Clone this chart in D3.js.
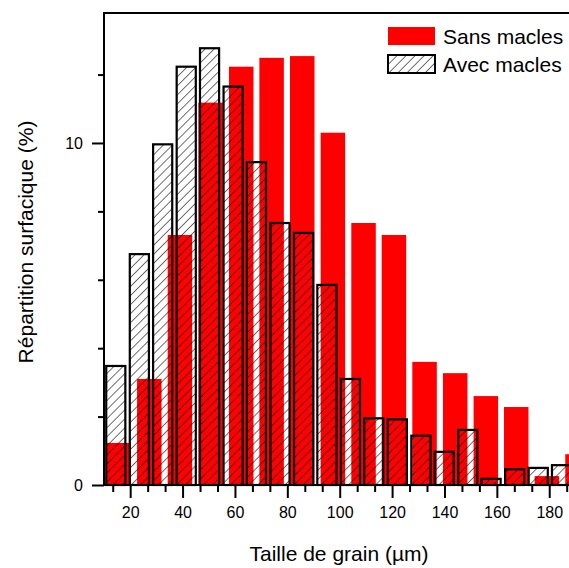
<!DOCTYPE html>
<html>
  <head>
    <meta charset="utf-8" />
    <title>Taille de grain</title>
    <script src="https://d3js.org/d3.v7.min.js"></script>
    <style>
        body {
            margin: 0;
            background: #fff;
        }
        text {
            font-family: "Liberation Sans", Arial, sans-serif;
            fill: #000;
        }
    </style>
  </head>
  <body>
    <svg id="chart"></svg>

    <script>
        // bin centres (µm) and surface fraction (%)
        var sansCenters = [15.6, 27.3, 39.0, 50.7, 62.4, 74.0, 85.7, 97.4, 109.1, 120.7, 132.4, 144.1, 155.8, 167.4, 179.1, 190.8];
        var sansValues  = [1.23, 3.1, 7.31, 11.18, 12.23, 12.49, 12.54, 10.3, 7.66, 7.31, 3.6, 3.27, 2.6, 2.28, 0.26, 0.9];

        var avecCenters = [14.5, 23.5, 32.4, 41.4, 50.3, 59.3, 68.2, 77.2, 86.2, 95.1, 104.1, 113.0, 122.0, 131.0, 139.9, 148.9, 157.8, 166.8, 175.8, 184.7];
        var avecValues  = [3.48, 6.75, 9.96, 12.23, 12.77, 11.65, 9.44, 7.66, 7.37, 5.85, 3.1, 1.95, 1.92, 1.44, 0.97, 1.61, 0.18, 0.46, 0.5, 0.58];

        var xMajor = [20, 40, 60, 80, 100, 120, 140, 160, 180];
        var xMinor = [13.33, 26.67, 33.33, 46.67, 53.33, 66.67, 73.33, 86.67, 93.33, 106.67, 113.33, 126.67, 133.33, 146.67, 153.33, 166.67, 173.33, 186.67];
        var yMajor = [0, 10];
        var yMinor = [2, 4, 6, 8, 12];

        var legendLabels = ["Sans macles", "Avec macles"];

        var width = 569, height = 568;
        var margin = {top: 13, left: 104, bottom: 83};

        var svg = d3.select("#chart")
            .attr("width", width)
            .attr("height", height);

        var defs = svg.append("defs");
        var pat = defs.append("pattern")
            .attr("id", "hatch")
            .attr("patternUnits", "userSpaceOnUse")
            .attr("width", 6.4)
            .attr("height", 6.4)
            .attr("patternTransform", "rotate(45)");
        pat.append("line")
            .attr("x1", 0).attr("y1", 0)
            .attr("x2", 0).attr("y2", 6.4)
            .attr("stroke", "#111")
            .attr("stroke-width", 1.2);

        var x = d3.scaleLinear()
            .domain([10, 200])
            .range([margin.left, margin.left + 190 * 2.619]);

        var y = d3.scaleLinear()
            .domain([0, 13.8])
            .range([height - margin.bottom, margin.top]);

        var sansW = x(9.35) - x(0);
        var avecW = x(7.3) - x(0);

        // Sans macles: plain red bars
        svg.append("g").selectAll("rect")
            .data(sansCenters)
            .enter().append("rect")
            .attr("x", function(d) { return x(d) - sansW / 2; })
            .attr("width", sansW)
            .attr("y", function(d, i) { return y(sansValues[i]); })
            .attr("height", function(d, i) { return y(0) - y(sansValues[i]); })
            .attr("fill", "#ff0000");

        // Avec macles: hatched outline bars on top
        svg.append("g").selectAll("rect")
            .data(avecCenters)
            .enter().append("rect")
            .attr("x", function(d) { return x(d) - avecW / 2; })
            .attr("width", avecW)
            .attr("y", function(d, i) { return y(avecValues[i]); })
            .attr("height", function(d, i) { return y(0) - y(avecValues[i]); })
            .attr("fill", "url(#hatch)")
            .attr("stroke", "#000")
            .attr("stroke-width", 2.2);

        // axes
        svg.append("g")
            .attr("transform", "translate(0," + y(0) + ")")
            .call(d3.axisBottom(x).tickValues(xMajor).tickSize(13).tickSizeOuter(0).tickPadding(9).tickFormat(d3.format("d")));
        svg.append("g")
            .attr("transform", "translate(0," + y(0) + ")")
            .call(d3.axisBottom(x).tickValues(xMinor).tickSize(7).tickSizeOuter(0).tickFormat(""));

        svg.append("g")
            .attr("transform", "translate(" + margin.left + ",0)")
            .call(d3.axisLeft(y).tickValues(yMajor).tickSize(12).tickSizeOuter(0).tickPadding(9).tickFormat(d3.format("d")));
        svg.append("g")
            .attr("transform", "translate(" + margin.left + ",0)")
            .call(d3.axisLeft(y).tickValues(yMinor).tickSize(6).tickSizeOuter(0).tickFormat(""));

        svg.selectAll(".domain").remove();
        svg.selectAll(".tick line").attr("stroke", "#000").attr("stroke-width", 2);
        svg.selectAll(".tick text").style("font-size", "16px").style("font-family", "'Liberation Sans', Arial, sans-serif");

        // frame lines
        svg.append("line")
            .attr("x1", margin.left).attr("x2", width)
            .attr("y1", y(0)).attr("y2", y(0))
            .attr("stroke", "#000").attr("stroke-width", 2);
        svg.append("line")
            .attr("x1", margin.left).attr("x2", width)
            .attr("y1", margin.top).attr("y2", margin.top)
            .attr("stroke", "#000").attr("stroke-width", 2);
        svg.append("line")
            .attr("x1", margin.left).attr("x2", margin.left)
            .attr("y1", margin.top - 1).attr("y2", y(0) + 1)
            .attr("stroke", "#000").attr("stroke-width", 2);

        // axis titles
        svg.append("text")
            .attr("x", 339)
            .attr("y", 561)
            .attr("text-anchor", "middle")
            .style("font-size", "21px")
            .text("Taille de grain (µm)");

        svg.append("text")
            .attr("transform", "translate(33," + 242 + ") rotate(-90)")
            .attr("text-anchor", "middle")
            .style("font-size", "21px")
            .text("Répartition surfacique (%)");

        // legend
        var legend = svg.append("g").selectAll("g")
            .data(legendLabels)
            .enter().append("g")
            .attr("transform", function(d, i) { return "translate(388," + (27 + i * 28) + ")"; });

        legend.append("rect")
            .attr("width", 47)
            .attr("height", 18)
            .attr("fill", function(d, i) { return i === 0 ? "#ff0000" : "url(#hatch)"; })
            .attr("stroke", function(d, i) { return i === 0 ? "none" : "#000"; })
            .attr("stroke-width", 2);

        legend.append("text")
            .attr("x", 55)
            .attr("y", 17)
            .style("font-size", "21px")
            .text(function(d) { return d; });
    </script>
  </body>
</html>
